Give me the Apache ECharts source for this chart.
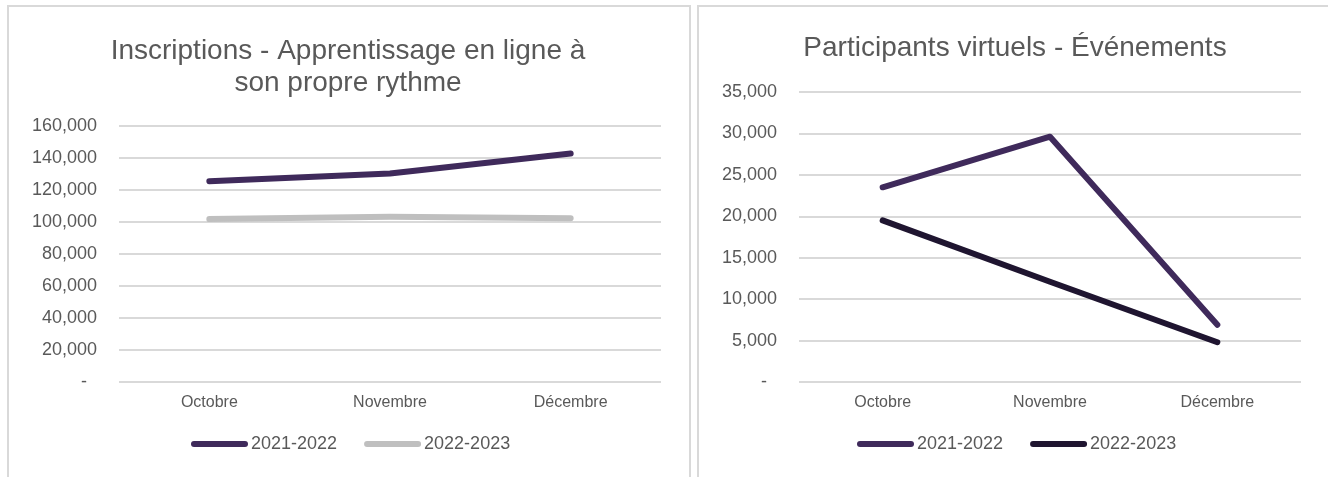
<!DOCTYPE html>
<html>
<head>
<meta charset="utf-8">
<script src="https://cdn.jsdelivr.net/npm/echarts@6/dist/echarts.min.js"></script>
<style>
  html, body { margin:0; padding:0; background:#fff; width:1328px; height:477px; overflow:hidden; }
  .panel { position:absolute; box-sizing:border-box; border:2px solid #D9D9D9; background:#fff; }
  #chart { position:absolute; left:0; top:0; width:1328px; height:477px; }
</style>
</head>
<body>
<div class="panel" style="left:7px; top:5px; width:684px; height:520px;"></div>
<div class="panel" style="left:697px; top:5px; width:700px; height:520px;"></div>
<div id="chart"></div>
<script>
// ---- Data ----
const months = ['Octobre', 'Novembre', 'Décembre'];
const seriesNames = ['2021-2022', '2022-2023'];

const titleLeft = 'Inscriptions - Apprentissage en ligne à\nson propre rythme';
const inscriptions2122 = [125500, 130300, 142800];
const inscriptions2223 = [101800, 103300, 102400];

const titleRight = 'Participants virtuels - Événements';
const participants2122 = [23500, 29600, 6900];
const participants2223 = [19500, 12100, 4800];

// ---- Styles ----
const FONT = "'Liberation Sans', Arial, sans-serif";
const TXT = '#595959';
const GRIDC = '#D9D9D9';
const leftColors = ['#3F2A5B', '#BFBFBF'];
const rightColors = ['#3F2A5B', '#1F1530'];
const legendIcon = 'path://M3,0 L54,0 A3,3 0 0 1 54,6 L3,6 A3,3 0 0 1 3,0 Z';

function yLabel(v) {
  if (v === 0) return '{d|-}';
  return v.toLocaleString('en-US');
}

function yAxis(gi, max, interval) {
  return {
    type: 'value', gridIndex: gi, min: 0, max: max, interval: interval,
    axisLine: { show: false }, axisTick: { show: false },
    splitLine: { lineStyle: { color: GRIDC, width: 2 } },
    axisLabel: {
      formatter: yLabel, color: TXT, fontSize: 18, fontFamily: FONT, margin: 22,
      rich: { d: { color: TXT, fontSize: 18, fontFamily: FONT, padding: [0, 10, 0, 0] } }
    }
  };
}
function xAxis(gi) {
  return {
    type: 'category', gridIndex: gi, data: months, boundaryGap: true,
    axisLine: { show: false }, axisTick: { show: false },
    axisLabel: { color: TXT, fontSize: 16, fontFamily: FONT, margin: 13 }
  };
}
function line(name, data, color, gi) {
  return {
    name: name, type: 'line', data: data, xAxisIndex: gi, yAxisIndex: gi,
    symbol: 'none', smooth: false,
    lineStyle: { color: color, width: 6, cap: 'round', join: 'round' },
    itemStyle: { color: color }
  };
}
function legend(colors, left) {
  return {
    data: seriesNames.map((n, i) => ({ name: n, itemStyle: { color: colors[i] } })),
    left: left, top: 435,
    padding: 0, itemWidth: 57, itemHeight: 6, itemGap: 27, icon: legendIcon,
    textStyle: { color: TXT, fontSize: 18, fontFamily: FONT, padding: [0, 0, 0, -2] },
    selectedMode: false
  };
}

const chart = echarts.init(document.getElementById('chart'), null, { renderer: 'canvas' });
chart.setOption({
  animation: false,
  backgroundColor: 'transparent',
  title: [
    { text: titleLeft, left: 348, top: 35, textAlign: 'center', padding: 0,
      textStyle: { color: TXT, fontSize: 28, fontWeight: 'normal', fontFamily: FONT, lineHeight: 32 } },
    { text: titleRight, left: 1015, top: 32, textAlign: 'center', padding: 0,
      textStyle: { color: TXT, fontSize: 28, fontWeight: 'normal', fontFamily: FONT, lineHeight: 32 } }
  ],
  legend: [legend(leftColors, 191), legend(rightColors, 857)],
  grid: [
    { left: 119, right: 1328 - 661, top: 126, bottom: 477 - 382, containLabel: false },
    { left: 799, right: 1328 - 1301, top: 92, bottom: 477 - 382, containLabel: false }
  ],
  xAxis: [xAxis(0), xAxis(1)],
  yAxis: [yAxis(0, 160000, 20000), yAxis(1, 35000, 5000)],
  series: [
    line(seriesNames[0], inscriptions2122, leftColors[0], 0),
    line(seriesNames[1], inscriptions2223, leftColors[1], 0),
    line(seriesNames[0], participants2122, rightColors[0], 1),
    line(seriesNames[1], participants2223, rightColors[1], 1)
  ]
});
</script>
</body>
</html>
